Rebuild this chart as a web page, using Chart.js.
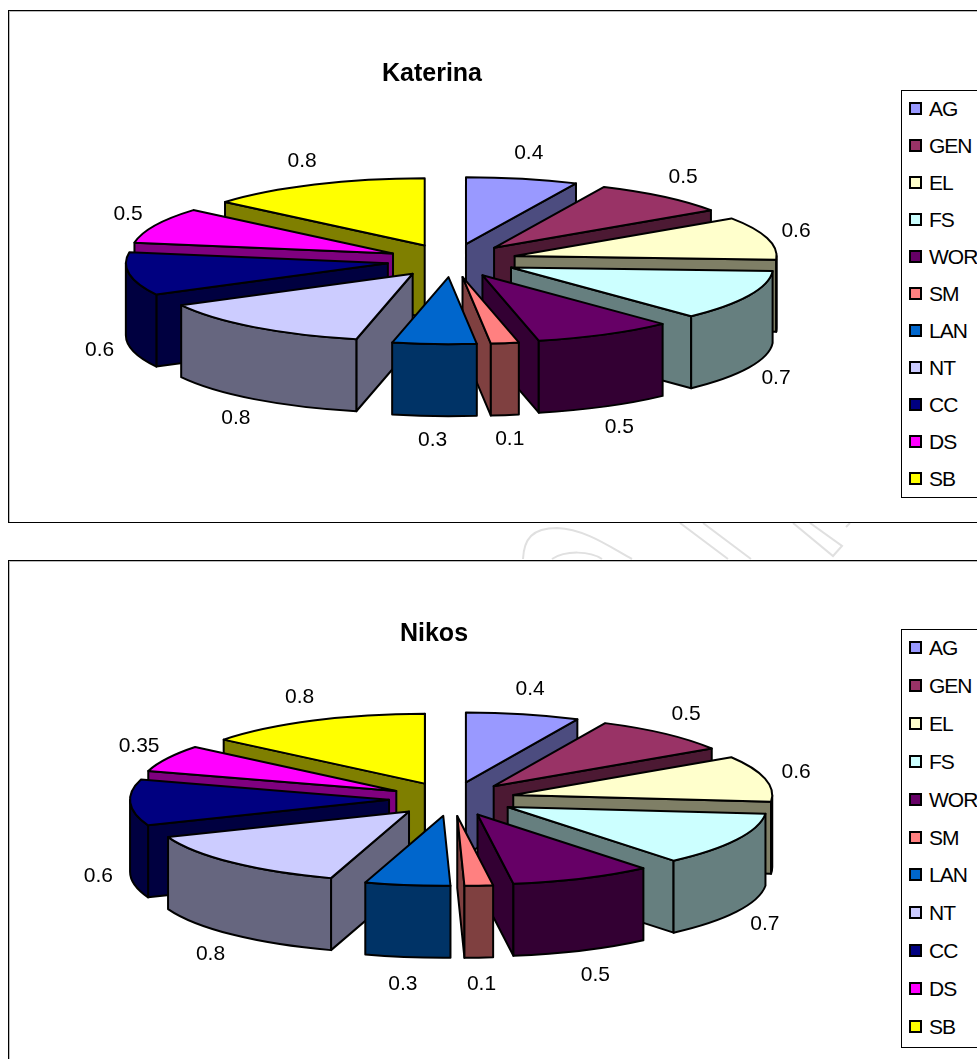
<!DOCTYPE html>
<html>
<head>
<meta charset="utf-8">
<title>Katerina / Nikos</title>
<script src="https://cdn.jsdelivr.net/npm/chart.js@4"></script>
<style>
    html, body { margin: 0; padding: 0; background: #fff; }
    body { position: relative; width: 977px; height: 1059px; overflow: hidden; font-family: "Liberation Sans", Arial, sans-serif; color: #000; }
    .frame { position: absolute; left: 8px; width: 1100px; border: 1px solid #000; box-shadow: inset 1px 1px 0 #bbb; background: #fff; box-sizing: border-box; }
    canvas { position: absolute; left: 0; }
    .legend { position: absolute; left: 901px; width: 120px; border: 1px solid #000; box-sizing: border-box; background: #fff; }
    .legend div { position: absolute; left: 27px; font-size: 21px; line-height: 22px; letter-spacing: -1px; }
    .legend i { position: absolute; left: -20px; top: 4px; width: 13px; height: 13px; border: 2px solid #000; box-sizing: border-box; }
    #clip { position: absolute; left: 0; top: 523px; }
</style>
</head>
<body>
<svg id="clip" width="977" height="37" fill="none" stroke="#e0e0e0" stroke-width="2">
    <path d="M523 36C524 16 532 5 557 5C585 6 610 24 632 36"/>
    <path d="M552 36C566 27 590 28 602 36"/>
    <path d="M680 0L728 36M703 0L751 36"/>
    <path d="M793 0L833 33L842 23L810 0M850 0L846 4"/>
</svg>
<div class="frame" style="top:10px;height:513px"></div>
<div class="frame" style="top:560px;height:600px"></div>
<canvas id="katerinaChart" width="864" height="530" style="top:0"></canvas>
<canvas id="nikosChart" width="868" height="509" style="top:550px"></canvas>
<div class="legend" id="katerinaLegend" style="top:90px;height:408px"></div>
<div class="legend" id="nikosLegend" style="top:629px;height:419px"></div>

<script>
const categories = ['AG', 'GEN', 'EL', 'FS', 'WOR', 'SM', 'LAN', 'NT', 'CC', 'DS', 'SB'];
const colors = ['#9999FF', '#993366', '#FFFFCC', '#CCFFFF', '#660066', '#FF8080', '#0066CC', '#CCCCFF', '#000080', '#FF00FF', '#FFFF00'];
const katerinaValues = [0.4, 0.5, 0.6, 0.7, 0.5, 0.1, 0.3, 0.8, 0.6, 0.5, 0.8];
const nikosValues = [0.4, 0.5, 0.6, 0.7, 0.5, 0.1, 0.3, 0.8, 0.6, 0.35, 0.8];

const DEPTH = 72;

function darken(hex) {
    const n = parseInt(hex.slice(1), 16);
    return `rgb(${(n >> 16) >> 1}, ${((n >> 8) & 255) >> 1}, ${(n & 255) >> 1})`;
}

// the pie elements keep their own angles, this just lays them flat and extrudes them
const tiltedPie = {
    id: 'tiltedPie',
    beforeDatasetsDraw(chart, args, opts) {
        const ctx = chart.ctx;
        const { tilt, explode } = opts;
        const arcs = chart.getDatasetMeta(0).data.map((arc, i) => ({ arc, i }));
        const mid = a => (a.startAngle + a.endAngle) / 2;

        // back slices first
        arcs.sort((a, b) => Math.sin(mid(a.arc)) - Math.sin(mid(b.arc)));

        ctx.save();
        ctx.lineWidth = 2;
        ctx.lineJoin = 'round';
        ctx.strokeStyle = '#000';

        arcs.forEach(({ arc }) => {
            const m = mid(arc);
            const px = opts.x + Math.cos(m) * explode;
            const py = opts.y + Math.sin(m) * explode * tilt;
            const s = arc.startAngle;
            const e = arc.endAngle;
            const r = arc.outerRadius;
            const dark = darken(arc.options.backgroundColor);
            const ex = t => px + r * Math.cos(t);
            const ey = t => py + r * tilt * Math.sin(t);

            const face = t => {
                ctx.beginPath();
                ctx.moveTo(px, py);
                ctx.lineTo(ex(t), ey(t));
                ctx.lineTo(ex(t), ey(t) + DEPTH);
                ctx.lineTo(px, py + DEPTH);
                ctx.closePath();
                ctx.fillStyle = dark;
                ctx.fill();
                ctx.stroke();
            };
            if (Math.cos(s) < 0) face(s);
            if (Math.cos(e) > 0) face(e);

            // front rim
            const from = Math.max(s, 0);
            const to = Math.min(e, Math.PI);
            if (to > from) {
                ctx.beginPath();
                ctx.ellipse(px, py, r, r * tilt, 0, from, to);
                ctx.lineTo(ex(to), ey(to) + DEPTH);
                ctx.ellipse(px, py + DEPTH, r, r * tilt, 0, to, from, true);
                ctx.closePath();
                ctx.fillStyle = dark;
                ctx.fill();
                ctx.stroke();
            }

            // top of the slice
            ctx.save();
            ctx.translate(px, py);
            ctx.scale(1, tilt);
            ctx.translate(-arc.x, -arc.y);
            arc.draw(ctx);
            ctx.restore();

            ctx.beginPath();
            ctx.moveTo(px, py);
            ctx.ellipse(px, py, r, r * tilt, 0, s, e);
            ctx.closePath();
            ctx.stroke();
        });

        // value labels just outside each rim
        const values = chart.data.datasets[0].data;
        ctx.fillStyle = '#000';
        ctx.font = '21px "Liberation Sans", Arial, sans-serif';
        ctx.textAlign = 'center';
        ctx.textBaseline = 'middle';
        arcs.forEach(({ arc, i }) => {
            const m = mid(arc);
            const c = Math.cos(m);
            const sn = Math.sin(m);
            const rx = arc.outerRadius + explode;
            const x = opts.x + (rx + opts.labelPad) * c;
            const y = opts.y + rx * tilt * sn + (sn > 0 ? opts.frontPad * sn + DEPTH : 26 * sn);
            ctx.fillText(String(values[i]), x, y);
        });
        ctx.restore();
        return false;
    }
};

function drawPieChart(canvasId, name, values, pie, titleTop) {
    return new Chart(document.getElementById(canvasId), {
        type: 'pie',
        data: {
            labels: categories,
            datasets: [{ data: values, backgroundColor: colors, borderWidth: 0 }]
        },
        options: {
            responsive: false,
            animation: false,
            radius: pie.radius,
            plugins: {
                legend: { display: false },
                tooltip: { enabled: false },
                title: {
                    display: true,
                    text: name,
                    color: '#000',
                    font: { family: '"Liberation Sans", Arial, sans-serif', size: 25, weight: 'bold' },
                    padding: { top: titleTop, bottom: 0 }
                },
                tiltedPie: pie
            }
        },
        plugins: [tiltedPie]
    });
}

function fillLegend(boxId, rowHeight) {
    const box = document.getElementById(boxId);
    categories.forEach((label, i) => {
        const row = document.createElement('div');
        row.style.top = (7 + i * rowHeight) + 'px';
        row.textContent = label;
        const swatch = document.createElement('i');
        swatch.style.background = colors[i];
        row.appendChild(swatch);
        box.appendChild(row);
    });
}

drawPieChart('katerinaChart', 'Katerina', katerinaValues,
    { x: 452, y: 260.5, radius: 262, tilt: 0.256, explode: 65, labelPad: 30, frontPad: 24 }, 59);
drawPieChart('nikosChart', 'Nikos', nikosValues,
    { x: 452, y: 249, radius: 259, tilt: 0.27, explode: 63, labelPad: 32, frontPad: 27 }, 69);
fillLegend('katerinaLegend', 37);
fillLegend('nikosLegend', 37.9);
</script>
</body>
</html>
